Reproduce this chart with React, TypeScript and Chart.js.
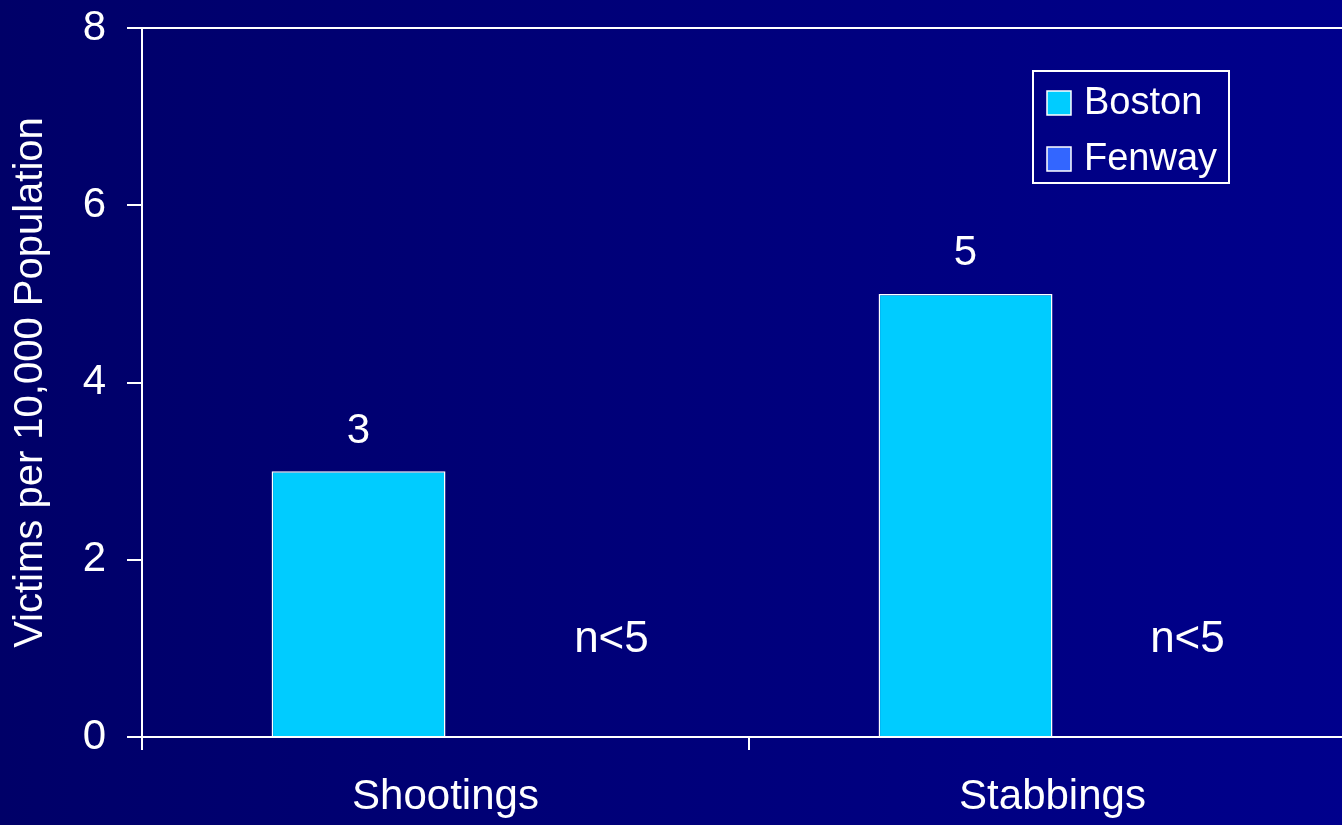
import React, { useEffect, useRef } from "react";
import { Chart, registerables } from "chart.js";

Chart.register(...registerables);

const categories = ["Shootings", "Stabbings"];
const seriesNames = ["Boston", "Fenway"];
const bostonValues: (number | null)[] = [3, 5];
const fenwayValues: (number | null)[] = [null, null];
const fenwayNotes = ["n<5", "n<5"];
const noteValue = 1.1;
const noteShift = [79, 48];
const yTicks = [0, 2, 4, 6, 8];
const seriesColors = ["#00CCFF", "#3366FF"];
const yTitle = "Victims per 10,000 Population";

const FONT = '"Liberation Sans", Arial, sans-serif';

export default function App() {
  const ref = useRef<HTMLCanvasElement | null>(null);

  useEffect(() => {
    document.body.style.margin = "0";
    const canvas = ref.current;
    if (!canvas) return;

    const notes = [null, fenwayNotes];

    const labelPlugin = {
      id: "labels",
      afterDatasetsDraw(chart: any) {
        const ctx = chart.ctx;
        const ys = chart.scales.y;
        const firstMeta = chart.getDatasetMeta(0);
        ctx.save();
        ctx.fillStyle = "#ffffff";
        ctx.textAlign = "center";
        ctx.textBaseline = "middle";
        chart.data.datasets.forEach((ds: any, di: number) => {
          const meta = chart.getDatasetMeta(di);
          meta.data.forEach((el: any, i: number) => {
            const v = ds.data[i];
            if (v == null) {
              const n = notes[di];
              if (n && n[i]) {
                const ref0 = firstMeta.data[i];
                const x = ref0.x + ref0.width * di + noteShift[i];
                ctx.font = `44px ${FONT}`;
                ctx.fillText(n[i], x, ys.getPixelForValue(noteValue));
              }
            } else {
              ctx.font = `42px ${FONT}`;
              ctx.fillText(String(v), el.x, el.y - 40);
            }
          });
        });
        ctx.restore();
      },
      afterDraw(chart: any) {
        const ctx = chart.ctx;
        const ca = chart.chartArea;
        ctx.save();
        ctx.strokeStyle = "#ffffff";
        ctx.lineWidth = 2;
        ctx.beginPath();
        ctx.moveTo(ca.left, ca.top);
        ctx.lineTo(ca.right, ca.top);
        ctx.stroke();
        // legend
        const bx = ca.right - 323;
        const by = ca.top + 43;
        const bw = 196;
        const bh = 112;
        ctx.strokeRect(bx, by, bw, bh);
        ctx.font = `38px ${FONT}`;
        ctx.textAlign = "left";
        ctx.textBaseline = "middle";
        seriesNames.forEach((name, i) => {
          const sy = by + 20 + i * 56;
          ctx.fillStyle = seriesColors[i];
          ctx.fillRect(bx + 14, sy, 24, 24);
          ctx.lineWidth = 1.5;
          ctx.strokeStyle = "#ffffff";
          ctx.strokeRect(bx + 14, sy, 24, 24);
          ctx.fillStyle = "#ffffff";
          ctx.fillText(name, bx + 51, sy + 13);
        });
        ctx.restore();
      },
    };

    const chart = new Chart(canvas, {
      type: "bar",
      data: {
        labels: categories,
        datasets: [
          {
            label: seriesNames[0],
            data: bostonValues,
            backgroundColor: seriesColors[0],
            borderColor: "#ffffff",
            borderWidth: 1.5,
            categoryPercentage: 0.573,
            barPercentage: 1,
          },
          {
            label: seriesNames[1],
            data: fenwayValues,
            backgroundColor: seriesColors[1],
            borderColor: "#ffffff",
            borderWidth: 1.5,
            categoryPercentage: 0.573,
            barPercentage: 1,
          },
        ],
      },
      options: {
        responsive: false,
        animation: false,
        layout: { padding: { top: 28, left: 0, right: 0, bottom: 0 } },
        plugins: {
          legend: { display: false },
          tooltip: { enabled: false },
        },
        scales: {
          x: {
            grid: {
              offset: true,
              drawOnChartArea: false,
              drawTicks: true,
              tickLength: 13,
              color: "#ffffff",
              lineWidth: 2,
            },
            border: { display: true, color: "#ffffff", width: 2 },
            ticks: {
              color: "#ffffff",
              font: { size: 42, family: FONT },
              padding: 22,
              maxRotation: 0,
            },
            afterFit(s: any) {
              s.height = 88;
            },
          },
          y: {
            min: 0,
            max: 8,
            grid: {
              drawOnChartArea: false,
              drawTicks: true,
              tickLength: 15,
              color: "#ffffff",
              lineWidth: 2,
            },
            border: { display: true, color: "#ffffff", width: 2 },
            ticks: {
              color: "#ffffff",
              font: { size: 42, family: FONT },
              padding: 21,
            },
            afterBuildTicks(s: any) {
              s.ticks = yTicks.map((v) => ({ value: v }));
            },
            title: {
              display: true,
              text: yTitle,
              color: "#ffffff",
              font: { size: 40, family: FONT },
              padding: { top: 7, bottom: 0 },
            },
            afterFit(s: any) {
              s.width = 142;
              s.paddingTop = 28;
              s.paddingBottom = 0;
            },
          },
        },
      },
      plugins: [labelPlugin],
    });

    return () => chart.destroy();
  }, []);

  return (
    <div
      style={{
        width: 1342,
        height: 825,
        overflow: "hidden",
        position: "relative",
        background: "linear-gradient(to right, #000068, #00008C)",
      }}
    >
      <canvas ref={ref} width={1356} height={825} style={{ display: "block" }} />
    </div>
  );
}
